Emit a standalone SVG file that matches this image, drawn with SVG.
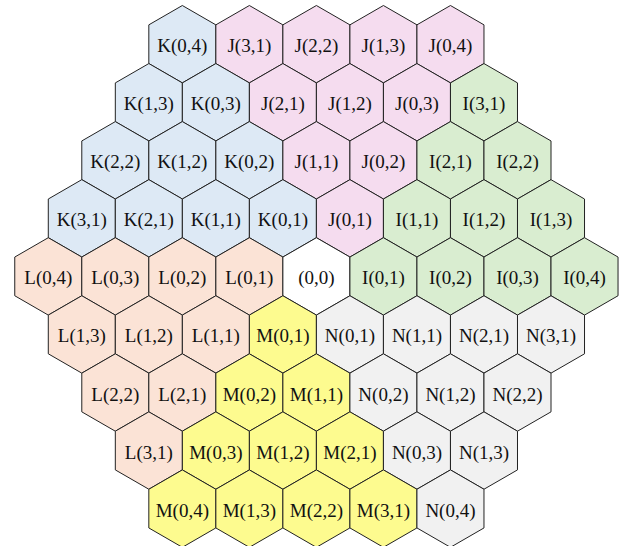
<svg xmlns="http://www.w3.org/2000/svg" xmlns:xlink="http://www.w3.org/1999/xlink" width="625" height="546" viewBox="0 0 625 546">
<style>
.h{stroke:#222;stroke-width:1;stroke-linejoin:miter}
.k{fill:#dde9f5}.j{fill:#f5dcef}.i{fill:#d9edd0}.l{fill:#fbe3d6}.m{fill:#fdfb8f}.n{fill:#f1f1f1}.o{fill:#ffffff}
text{font-family:"Liberation Serif","Times New Roman",serif;font-size:19px;fill:#111;text-anchor:middle}
</style>
<defs>
<polygon id="hex" points="0,-38.7 33.515,-19.35 33.515,19.35 0,38.7 -33.515,19.35 -33.515,-19.35"/>
</defs>
<rect width="625" height="546" fill="#ffffff"/>
<g id="nodes">
<g id="K04" transform="translate(182.34,44.2)"><use xlink:href="#hex" class="h k"/><text y="8">K(0,4)</text></g>
<g id="J31" transform="translate(249.37,44.2)"><use xlink:href="#hex" class="h j"/><text y="8">J(3,1)</text></g>
<g id="J22" transform="translate(316.4,44.2)"><use xlink:href="#hex" class="h j"/><text y="8">J(2,2)</text></g>
<g id="J13" transform="translate(383.43,44.2)"><use xlink:href="#hex" class="h j"/><text y="8">J(1,3)</text></g>
<g id="J04" transform="translate(450.46,44.2)"><use xlink:href="#hex" class="h j"/><text y="8">J(0,4)</text></g>

<g id="K13" transform="translate(148.83,102.25)"><use xlink:href="#hex" class="h k"/><text y="8">K(1,3)</text></g>
<g id="K03" transform="translate(215.86,102.25)"><use xlink:href="#hex" class="h k"/><text y="8">K(0,3)</text></g>
<g id="J21" transform="translate(282.89,102.25)"><use xlink:href="#hex" class="h j"/><text y="8">J(2,1)</text></g>
<g id="J12" transform="translate(349.92,102.25)"><use xlink:href="#hex" class="h j"/><text y="8">J(1,2)</text></g>
<g id="J03" transform="translate(416.95,102.25)"><use xlink:href="#hex" class="h j"/><text y="8">J(0,3)</text></g>
<g id="I31" transform="translate(483.98,102.25)"><use xlink:href="#hex" class="h i"/><text y="8">I(3,1)</text></g>

<g id="K22" transform="translate(115.31,160.3)"><use xlink:href="#hex" class="h k"/><text y="8">K(2,2)</text></g>
<g id="K12" transform="translate(182.34,160.3)"><use xlink:href="#hex" class="h k"/><text y="8">K(1,2)</text></g>
<g id="K02" transform="translate(249.37,160.3)"><use xlink:href="#hex" class="h k"/><text y="8">K(0,2)</text></g>
<g id="J11" transform="translate(316.4,160.3)"><use xlink:href="#hex" class="h j"/><text y="8">J(1,1)</text></g>
<g id="J02" transform="translate(383.43,160.3)"><use xlink:href="#hex" class="h j"/><text y="8">J(0,2)</text></g>
<g id="I21" transform="translate(450.46,160.3)"><use xlink:href="#hex" class="h i"/><text y="8">I(2,1)</text></g>
<g id="I22" transform="translate(517.49,160.3)"><use xlink:href="#hex" class="h i"/><text y="8">I(2,2)</text></g>

<g id="K31" transform="translate(81.8,218.35)"><use xlink:href="#hex" class="h k"/><text y="8">K(3,1)</text></g>
<g id="K21" transform="translate(148.83,218.35)"><use xlink:href="#hex" class="h k"/><text y="8">K(2,1)</text></g>
<g id="K11" transform="translate(215.86,218.35)"><use xlink:href="#hex" class="h k"/><text y="8">K(1,1)</text></g>
<g id="K01" transform="translate(282.89,218.35)"><use xlink:href="#hex" class="h k"/><text y="8">K(0,1)</text></g>
<g id="J01" transform="translate(349.92,218.35)"><use xlink:href="#hex" class="h j"/><text y="8">J(0,1)</text></g>
<g id="I11" transform="translate(416.95,218.35)"><use xlink:href="#hex" class="h i"/><text y="8">I(1,1)</text></g>
<g id="I12" transform="translate(483.98,218.35)"><use xlink:href="#hex" class="h i"/><text y="8">I(1,2)</text></g>
<g id="I13" transform="translate(551.01,218.35)"><use xlink:href="#hex" class="h i"/><text y="8">I(1,3)</text></g>

<g id="L04" transform="translate(48.28,276.4)"><use xlink:href="#hex" class="h l"/><text y="8">L(0,4)</text></g>
<g id="L03" transform="translate(115.31,276.4)"><use xlink:href="#hex" class="h l"/><text y="8">L(0,3)</text></g>
<g id="L02" transform="translate(182.34,276.4)"><use xlink:href="#hex" class="h l"/><text y="8">L(0,2)</text></g>
<g id="L01" transform="translate(249.37,276.4)"><use xlink:href="#hex" class="h l"/><text y="8">L(0,1)</text></g>
<g id="O00" transform="translate(316.4,276.4)"><use xlink:href="#hex" class="h o"/><text y="8">(0,0)</text></g>
<g id="I01" transform="translate(383.43,276.4)"><use xlink:href="#hex" class="h i"/><text y="8">I(0,1)</text></g>
<g id="I02" transform="translate(450.46,276.4)"><use xlink:href="#hex" class="h i"/><text y="8">I(0,2)</text></g>
<g id="I03" transform="translate(517.49,276.4)"><use xlink:href="#hex" class="h i"/><text y="8">I(0,3)</text></g>
<g id="I04" transform="translate(584.52,276.4)"><use xlink:href="#hex" class="h i"/><text y="8">I(0,4)</text></g>

<g id="L13" transform="translate(81.8,334.45)"><use xlink:href="#hex" class="h l"/><text y="8">L(1,3)</text></g>
<g id="L12" transform="translate(148.83,334.45)"><use xlink:href="#hex" class="h l"/><text y="8">L(1,2)</text></g>
<g id="L11" transform="translate(215.86,334.45)"><use xlink:href="#hex" class="h l"/><text y="8">L(1,1)</text></g>
<g id="M01" transform="translate(282.89,334.45)"><use xlink:href="#hex" class="h m"/><text y="8">M(0,1)</text></g>
<g id="N01" transform="translate(349.92,334.45)"><use xlink:href="#hex" class="h n"/><text y="8">N(0,1)</text></g>
<g id="N11" transform="translate(416.95,334.45)"><use xlink:href="#hex" class="h n"/><text y="8">N(1,1)</text></g>
<g id="N21" transform="translate(483.98,334.45)"><use xlink:href="#hex" class="h n"/><text y="8">N(2,1)</text></g>
<g id="N31" transform="translate(551.01,334.45)"><use xlink:href="#hex" class="h n"/><text y="8">N(3,1)</text></g>

<g id="L22" transform="translate(115.31,392.5)"><use xlink:href="#hex" class="h l"/><text y="8">L(2,2)</text></g>
<g id="L21" transform="translate(182.34,392.5)"><use xlink:href="#hex" class="h l"/><text y="8">L(2,1)</text></g>
<g id="M02" transform="translate(249.37,392.5)"><use xlink:href="#hex" class="h m"/><text y="8">M(0,2)</text></g>
<g id="M11" transform="translate(316.4,392.5)"><use xlink:href="#hex" class="h m"/><text y="8">M(1,1)</text></g>
<g id="N02" transform="translate(383.43,392.5)"><use xlink:href="#hex" class="h n"/><text y="8">N(0,2)</text></g>
<g id="N12" transform="translate(450.46,392.5)"><use xlink:href="#hex" class="h n"/><text y="8">N(1,2)</text></g>
<g id="N22" transform="translate(517.49,392.5)"><use xlink:href="#hex" class="h n"/><text y="8">N(2,2)</text></g>

<g id="L31" transform="translate(148.83,450.55)"><use xlink:href="#hex" class="h l"/><text y="8">L(3,1)</text></g>
<g id="M03" transform="translate(215.86,450.55)"><use xlink:href="#hex" class="h m"/><text y="8">M(0,3)</text></g>
<g id="M12" transform="translate(282.89,450.55)"><use xlink:href="#hex" class="h m"/><text y="8">M(1,2)</text></g>
<g id="M21" transform="translate(349.92,450.55)"><use xlink:href="#hex" class="h m"/><text y="8">M(2,1)</text></g>
<g id="N03" transform="translate(416.95,450.55)"><use xlink:href="#hex" class="h n"/><text y="8">N(0,3)</text></g>
<g id="N13" transform="translate(483.98,450.55)"><use xlink:href="#hex" class="h n"/><text y="8">N(1,3)</text></g>

<g id="M04" transform="translate(182.34,508.6)"><use xlink:href="#hex" class="h m"/><text y="8">M(0,4)</text></g>
<g id="M13" transform="translate(249.37,508.6)"><use xlink:href="#hex" class="h m"/><text y="8">M(1,3)</text></g>
<g id="M22" transform="translate(316.4,508.6)"><use xlink:href="#hex" class="h m"/><text y="8">M(2,2)</text></g>
<g id="M31" transform="translate(383.43,508.6)"><use xlink:href="#hex" class="h m"/><text y="8">M(3,1)</text></g>
<g id="N04" transform="translate(450.46,508.6)"><use xlink:href="#hex" class="h n"/><text y="8">N(0,4)</text></g>
</g>
<g id="connectors"></g>
</svg>
